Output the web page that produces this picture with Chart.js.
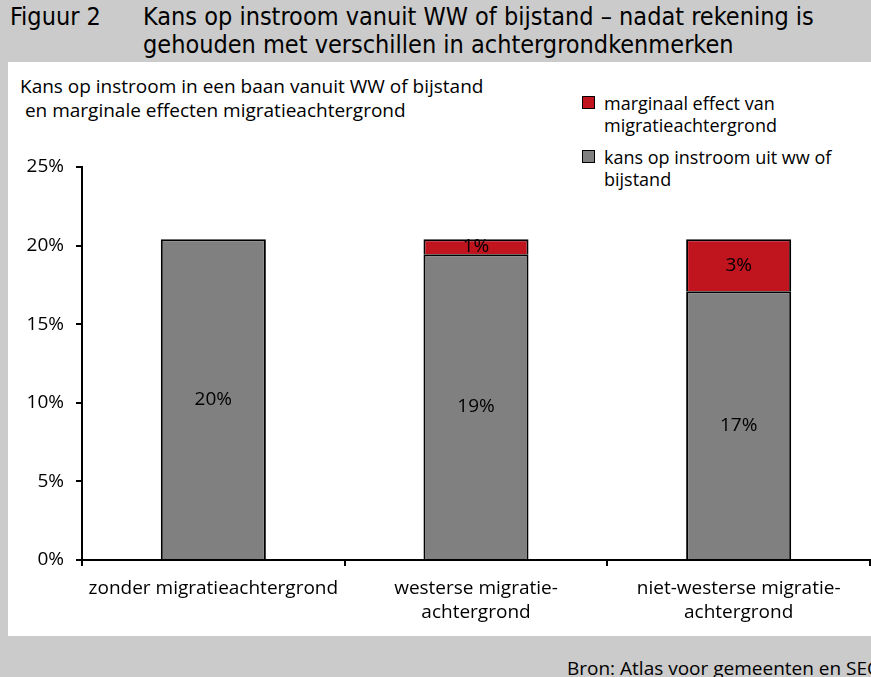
<!DOCTYPE html>
<html>
<head>
<meta charset="utf-8">
<script src="https://cdn.jsdelivr.net/npm/chart.js@4.4.1/dist/chart.umd.min.js"></script>
<style>
  html, body { margin: 0; padding: 0; }
  body { width: 871px; height: 677px; background: #cbcbcb; position: relative; overflow: hidden; font-family: "Open Sans", "Noto Sans", sans-serif; color: #000; }
  #panel { position: absolute; left: 8px; top: 62px; width: 863px; height: 574px; background: #fff; }
  .t { position: absolute; white-space: nowrap; }
  #fig { left: 10px; top: 3px; font-family: "Liberation Sans Narrow", "DejaVu Sans Condensed", sans-serif; font-size: 25px; line-height: 28px; }
  #title { left: 143px; top: 3px; font-family: "Liberation Sans Narrow", "DejaVu Sans Condensed", sans-serif; font-size: 25px; line-height: 28px; }
  #sub { left: 20px; top: 74px; font-size: 19px; line-height: 24px; }
  .lg { position: absolute; left: 604px; font-size: 18px; line-height: 22px; white-space: nowrap; }
  .box { position: absolute; left: 582px; width: 11px; height: 11px; border: 1.5px solid #000; }
  #src { left: 567px; top: 656px; font-size: 19px; line-height: 24px; }
  canvas { position: absolute; left: 0; top: 0; }
</style>
</head>
<body>
<div id="panel"></div>
<div class="t" id="fig">Figuur 2</div>
<div class="t" id="title">Kans op instroom vanuit WW of bijstand – nadat rekening is<br>gehouden met verschillen in achtergrondkenmerken</div>
<div class="t" id="sub">Kans op instroom in een baan vanuit WW of bijstand<br>&nbsp;en marginale effecten migratieachtergrond</div>
<div class="box" style="top:96px;background:#c0141e"></div>
<div class="lg" style="top:92px">marginaal effect van<br>migratieachtergrond</div>
<div class="box" style="top:150px;background:#808080"></div>
<div class="lg" style="top:146px">kans op instroom uit ww of<br>bijstand</div>
<div class="t" id="src">Bron: Atlas voor gemeenten en SEO</div>
<canvas id="c" width="871" height="677"></canvas>
<script>
const categories = ['zonder migratieachtergrond', ['westerse migratie-', 'achtergrond'], ['niet-westerse migratie-', 'achtergrond']];
const kansValues = [20.4, 19.45, 17.1];
const marginaalValues = [0, 0.95, 3.3];
const yTicks = [0, 5, 10, 15, 20, 25];
const seriesNames = ['kans op instroom uit ww of bijstand', 'marginaal effect van migratieachtergrond'];

const FONT = '"Open Sans", "Noto Sans", sans-serif';

const barLabels = {
  id: 'barLabels',
  afterDatasetsDraw(chart) {
    const ctx = chart.ctx;
    ctx.save();
    ctx.font = '19px ' + FONT;
    ctx.fillStyle = '#000';
    ctx.textAlign = 'center';
    ctx.textBaseline = 'middle';
    chart.data.datasets.forEach((ds, di) => {
      const meta = chart.getDatasetMeta(di);
      meta.data.forEach((bar, i) => {
        const v = ds.data[i];
        if (!v) return;
        const p = bar.getProps(['x', 'y', 'base'], true);
        ctx.fillText(Math.round(v) + '%', p.x, (p.y + p.base) / 2);
      });
    });
    ctx.restore();
  }
};

new Chart(document.getElementById('c'), {
  type: 'bar',
  data: {
    labels: categories,
    datasets: [
      { label: seriesNames[0], data: kansValues, backgroundColor: '#808080', borderColor: '#000', borderWidth: 2, borderSkipped: 'bottom', barPercentage: 0.4, categoryPercentage: 1 },
      { label: seriesNames[1], data: marginaalValues, backgroundColor: '#c0141e', borderColor: '#000', borderWidth: 2, borderSkipped: 'bottom', barPercentage: 0.4, categoryPercentage: 1 }
    ]
  },
  options: {
    responsive: false,
    animation: false,
    devicePixelRatio: 1,
    layout: { padding: { left: 0, top: 167, right: 1, bottom: 0 } },
    plugins: { legend: { display: false }, title: { display: false }, tooltip: { enabled: false } },
    scales: {
      x: {
        stacked: true,
        grid: { display: true, offset: true, drawOnChartArea: false, drawTicks: true, tickLength: 6, color: '#000', lineWidth: 2 },
        border: { display: true, color: '#000', width: 2 },
        ticks: { color: '#000', font: { size: 19, family: FONT, lineHeight: 24 / 19 }, padding: 11, maxRotation: 0, autoSkip: false },
        afterFit(s) { s.height = 117; }
      },
      y: {
        stacked: true,
        min: 0, max: 25,
        afterBuildTicks(s) { s.ticks = yTicks.map(v => ({ value: v })); },
        grid: { display: true, drawOnChartArea: false, drawTicks: true, tickLength: 6, color: '#000', lineWidth: 2 },
        border: { display: true, color: '#000', width: 2 },
        ticks: { color: '#000', font: { size: 19, family: FONT }, padding: 12, callback: v => v + '%' },
        afterFit(s) { s.width = 82; }
      }
    }
  },
  plugins: [barLabels]
});
</script>
</body>
</html>
